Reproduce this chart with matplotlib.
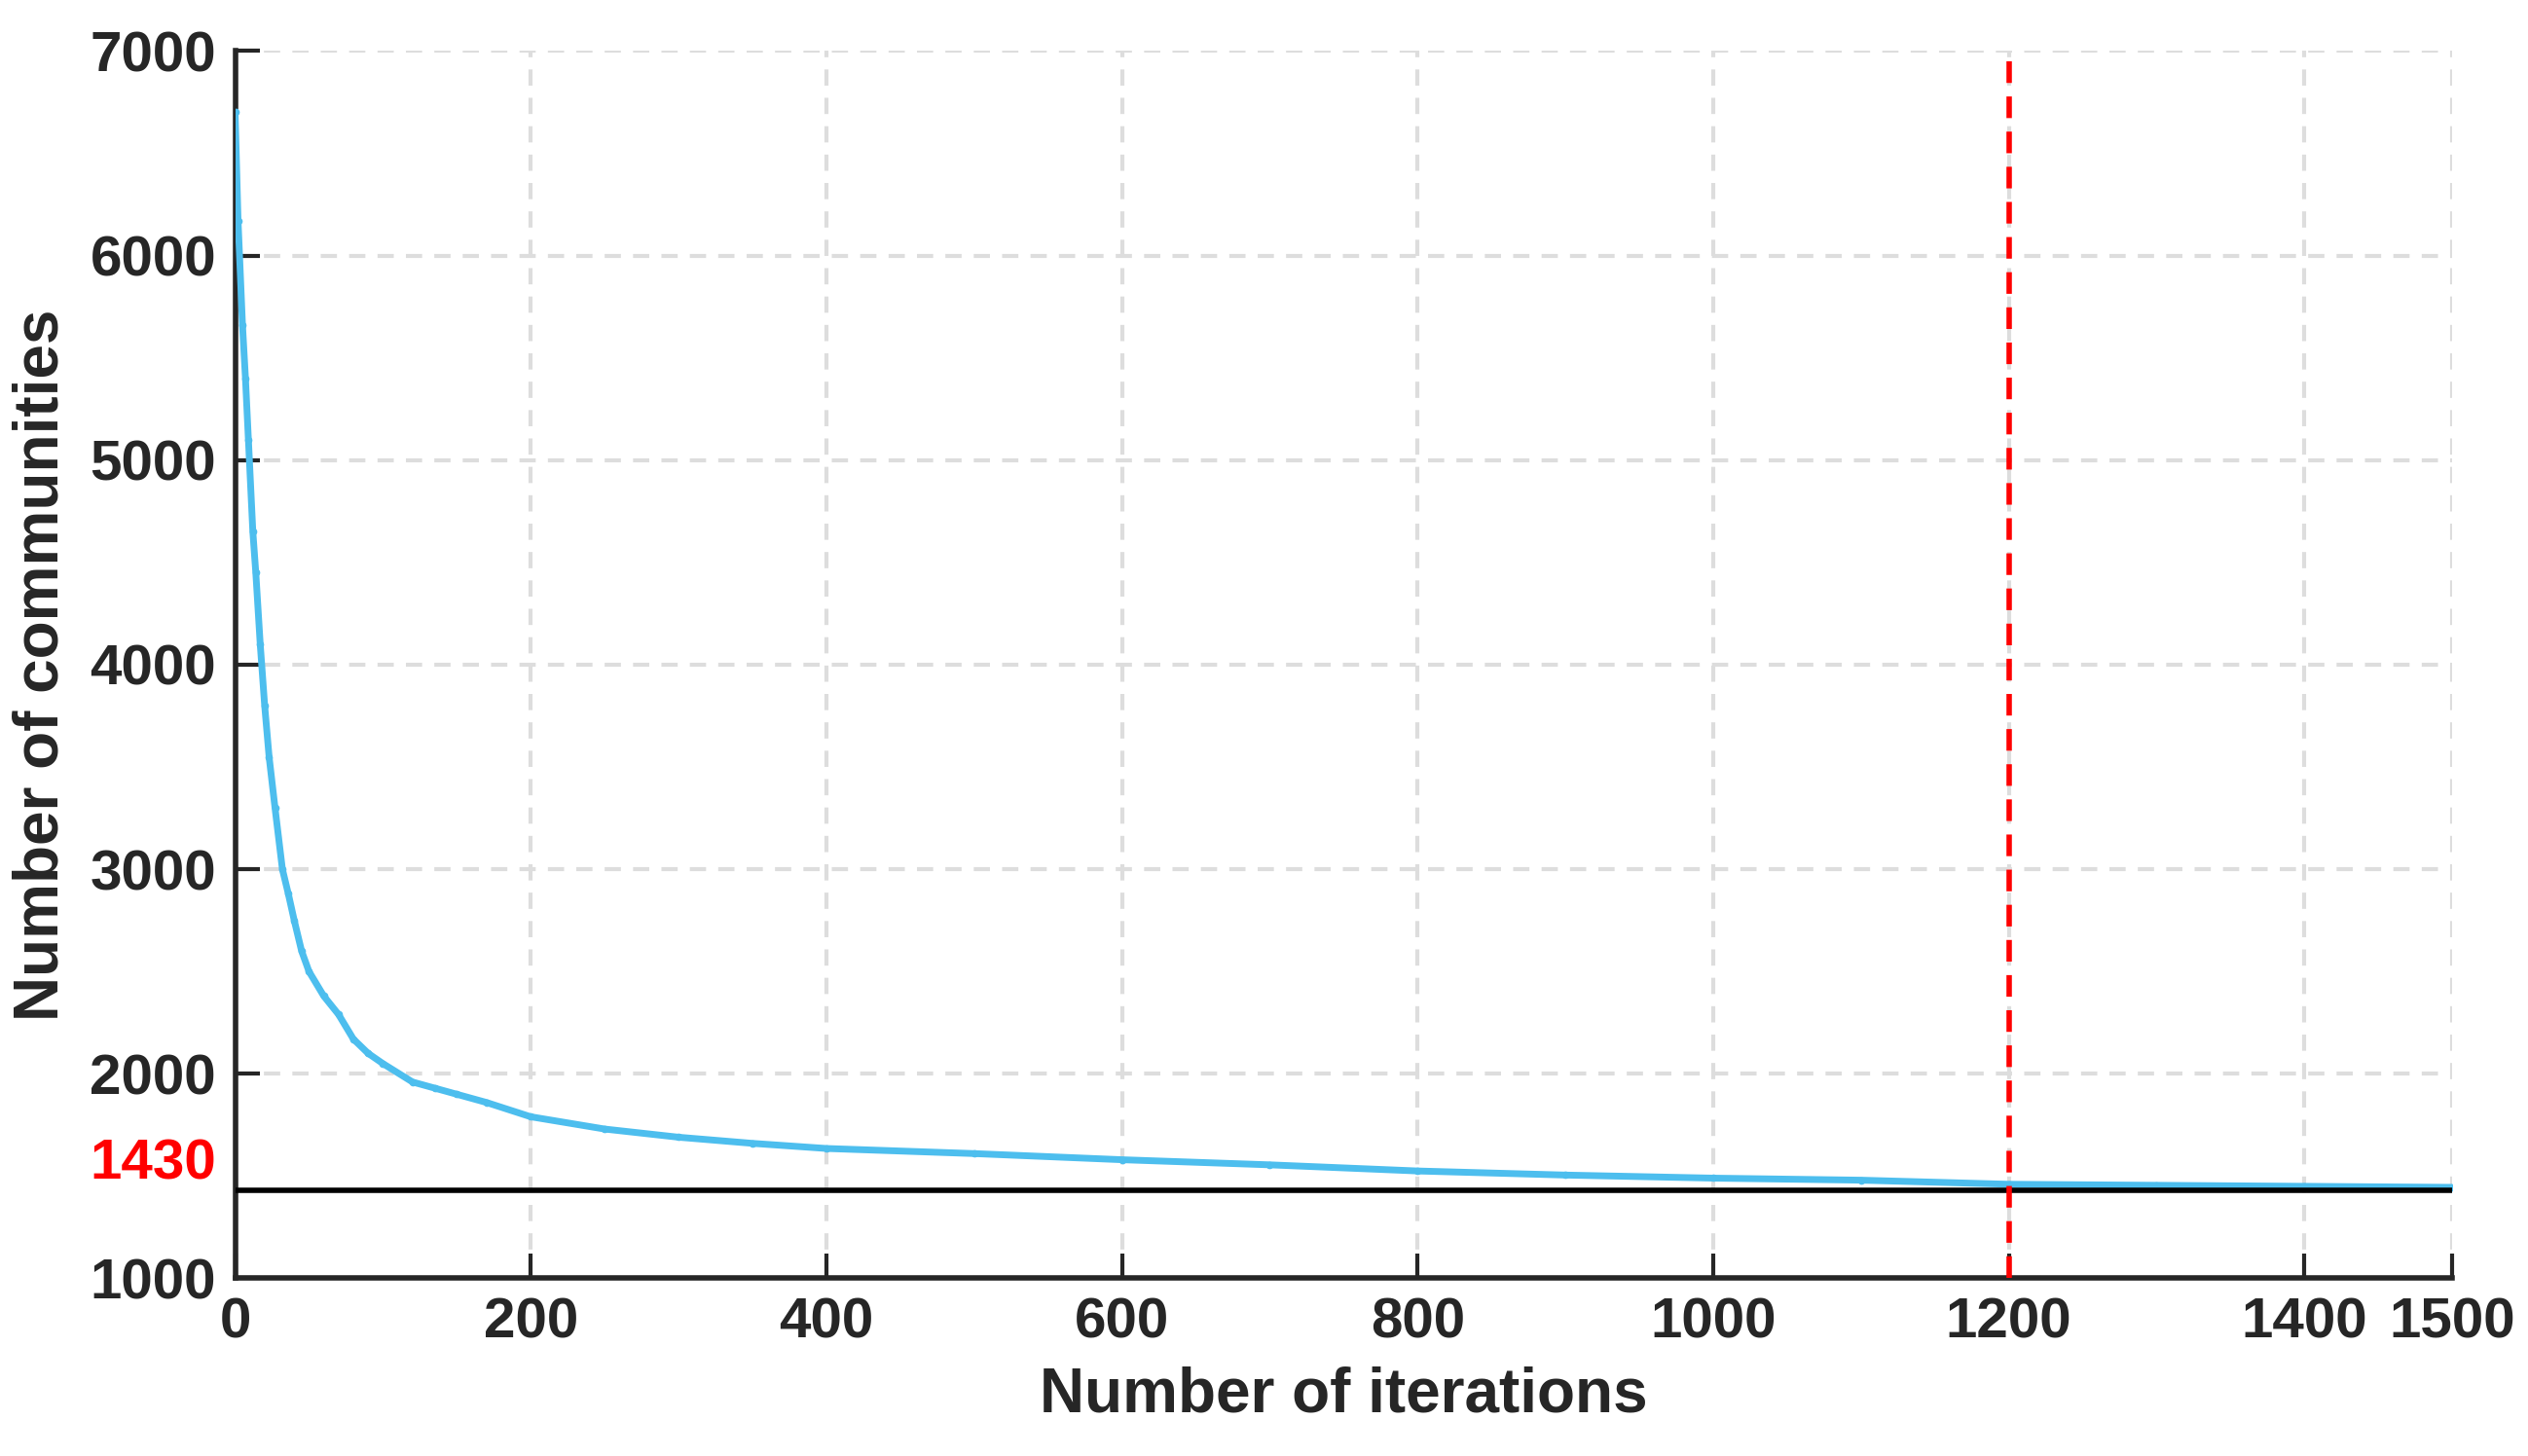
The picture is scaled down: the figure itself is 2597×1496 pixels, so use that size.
import matplotlib.pyplot as plt
import numpy as np

# readings
iters = [0, 2, 5, 7, 9, 12, 14, 17, 20, 23, 27, 32, 36, 40, 45, 50, 60, 70,
         80, 90, 100, 120, 135, 150, 170, 200, 250, 300, 350, 400, 500, 600,
         700, 800, 900, 1000, 1100, 1200, 1300, 1400, 1500]
communities = [6700, 6170, 5660, 5400, 5100, 4650, 4450, 4100, 3800, 3550,
               3300, 3000, 2880, 2750, 2600, 2500, 2380, 2290, 2170, 2100,
               2050, 1960, 1930, 1900, 1860, 1790, 1730, 1690, 1660, 1635,
               1610, 1580, 1555, 1525, 1505, 1490, 1480, 1460, 1455, 1450, 1445]
converged = 1430
stop_iter = 1200
xticks = [0, 200, 400, 600, 800, 1000, 1200, 1400, 1500]
yticks = [1000, 2000, 3000, 4000, 5000, 6000, 7000]

plt.rcParams['font.family'] = ['Liberation Sans', 'DejaVu Sans']
plt.rcParams['font.weight'] = 'bold'

fig = plt.figure(figsize=(25.97, 14.96), dpi=100)
ax = fig.add_axes([0.093, 0.122, 0.877, 0.843])

ax.plot(iters, communities, color='#4DBEEE', lw=5, marker='.', ms=9, zorder=3)
ax.axhline(converged, color='black', lw=4, zorder=4)
ax.axvline(stop_iter, color='red', lw=4, ls=(0, (4, 2.5)), zorder=5)

ax.set_xlim(0, 1500)
ax.set_ylim(1000, 7000)
ax.set_xticks(xticks)
ax.set_yticks(yticks + [converged])
ax.set_yticklabels([str(v) for v in yticks] + [str(converged)])
ax.grid(True, ls=(0, (4, 3)), color='#DDDDDD', lw=3)
ax.tick_params(direction='in', length=18, width=3, labelsize=42, colors='#262626', pad=14)
ax.get_yticklabels()[-1].set_color('red')
ax.get_yticklabels()[-1].set_va('bottom')
ax.yaxis.get_major_ticks()[-1].tick1line.set_visible(False)
for side in ['top', 'right']:
    ax.spines[side].set_visible(False)
for side in ['left', 'bottom']:
    ax.spines[side].set_linewidth(4)
    ax.spines[side].set_color('#262626')

ax.set_xlabel('Number of iterations', fontsize=46, fontweight='bold', color='#262626', labelpad=12)
ax.set_ylabel('Number of communities', fontsize=46, fontweight='bold', color='#262626', labelpad=14)

fig.savefig('out.png', dpi=100)
